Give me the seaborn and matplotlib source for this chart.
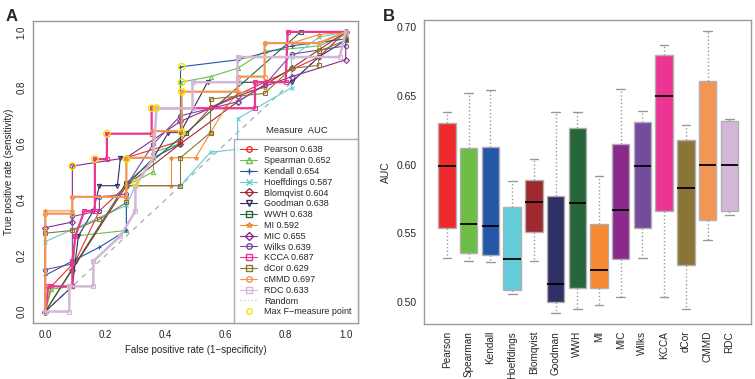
import pandas as pd
import seaborn as sns
import matplotlib.pyplot as plt
from matplotlib.lines import Line2D

# measures, colours, AUC
measures = ['Pearson', 'Spearman', 'Kendall', 'Hoeffdings', 'Blomqvist', 'Goodman', 'WWH',
            'MI', 'MIC', 'Wilks', 'KCCA', 'dCor', 'cMMD', 'RDC']
box_labels = ['Pearson', 'Spearman', 'Kendall', 'Hoeffdings', 'Blomqvist', 'Goodman', 'WWH',
              'MI', 'MIC', 'Wilks', 'KCCA', 'dCor', 'CMMD', 'RDC']
auc = [0.638, 0.652, 0.654, 0.587, 0.604, 0.638, 0.638, 0.592, 0.655, 0.639, 0.687, 0.629, 0.697, 0.633]
colors = ['#EE2A2E', '#6DBE45', '#2457A7', '#63CCD8', '#A0292F', '#2F3166', '#27653A',
          '#F68A32', '#8B2A8C', '#744C9E', '#EC3592', '#8B7536', '#F39655', '#D2B7D6']
markers = ['o', '^', '+', 'x', 'D', 'v', 's', '*', 'D', 'o', 's', 's', 'o', 's']
widths = [0.8, 0.8, 0.8, 0.8, 0.8, 0.8, 0.8, 0.8, 0.8, 0.8, 1.6, 0.8, 1.6, 1.8]

# ROC curves (fpr, tpr)
roc_pearson = [(0, 0), (0.02, 0.09), (0.1, 0.18), (0.18, 0.36), (0.27, 0.45), (0.27, 0.55),
               (0.45, 0.61), (0.55, 0.73), (0.73, 0.82), (0.91, 0.91), (1, 1)]
roc_spearman = [(0, 0), (0.02, 0.08), (0.09, 0.09), (0.1, 0.27), (0.27, 0.29), (0.27, 0.45),
                (0.36, 0.5), (0.36, 0.57), (0.45, 0.6), (0.45, 0.82), (0.55, 0.84), (0.64, 0.87),
                (0.73, 0.93), (0.91, 0.95), (1, 0.99), (1, 1)]
roc_kendall = [(0, 0), (0, 0.13), (0.09, 0.18), (0.18, 0.23), (0.27, 0.29), (0.27, 0.45),
               (0.36, 0.55), (0.45, 0.6), (0.45, 0.875), (0.64, 0.9), (0.82, 0.95), (1, 0.975), (1, 1)]
roc_hoeffdings = [(0, 0), (0, 0.25), (0.27, 0.38), (0.3, 0.45), (0.45, 0.45), (0.55, 0.57),
                  (0.64, 0.58), (0.64, 0.69), (0.82, 0.8), (0.82, 0.91), (0.91, 0.98), (1, 1)]
roc_blomqvist = [(0, 0), (0.09, 0.15), (0.27, 0.45), (0.45, 0.6), (0.64, 0.75), (0.82, 0.87), (1, 1)]
roc_goodman = [(0, 0), (0.09, 0.09), (0.11, 0.27), (0.16, 0.36), (0.18, 0.45), (0.24, 0.45),
               (0.25, 0.55), (0.36, 0.55), (0.41, 0.64), (0.45, 0.64), (0.54, 0.82), (0.82, 0.82),
               (0.91, 0.91), (1, 0.97), (1, 1)]
roc_wwh = [(0, 0), (0.27, 0.46), (0.47, 0.64), (0.85, 1.0), (1, 1)]
roc_mi = [(0, 0), (0, 0.36), (0.09, 0.36), (0.09, 0.41), (0.27, 0.41), (0.27, 0.45), (0.42, 0.45),
          (0.42, 0.55), (0.5, 0.55), (0.55, 0.64), (0.6, 0.73), (0.64, 0.78), (0.73, 0.8),
          (0.73, 0.96), (0.82, 0.96), (0.91, 0.99), (1, 1)]
roc_mic = [(0, 0), (0, 0.3), (0.09, 0.32), (0.09, 0.52), (0.27, 0.55), (0.45, 0.68), (0.64, 0.77),
           (0.82, 0.84), (1, 0.9), (1, 1)]
roc_wilks = [(0, 0), (0, 0.15), (0.09, 0.17), (0.09, 0.34), (0.18, 0.36), (0.18, 0.41), (0.27, 0.42),
             (0.27, 0.45), (0.36, 0.6), (0.45, 0.7), (0.64, 0.75), (0.73, 0.81), (0.82, 0.92),
             (1, 0.95), (1, 1)]
roc_kcca = [(0, 0), (0.01, 0.09), (0.09, 0.09), (0.09, 0.18), (0.1, 0.27), (0.13, 0.36), (0.165, 0.36),
            (0.165, 0.545), (0.205, 0.545), (0.205, 0.636), (0.354, 0.636), (0.354, 0.727),
            (0.698, 0.727), (0.698, 0.82), (0.8, 0.82), (0.807, 1.0), (1, 1)]
roc_dcor = [(0, 0), (0, 0.28), (0.09, 0.29), (0.18, 0.33), (0.27, 0.39), (0.27, 0.45), (0.45, 0.45),
            (0.45, 0.55), (0.55, 0.64), (0.55, 0.76), (0.73, 0.78), (0.82, 0.87), (0.91, 0.88),
            (0.91, 0.93), (1, 0.97), (1, 1)]
roc_cmmd = [(0, 0), (0, 0.35), (0.09, 0.35), (0.09, 0.41), (0.27, 0.41), (0.27, 0.55), (0.36, 0.55),
            (0.36, 0.645), (0.454, 0.645), (0.454, 0.786), (0.64, 0.786), (0.64, 0.84), (0.73, 0.84),
            (0.73, 0.96), (0.91, 0.96), (1, 1)]
roc_rdc = [(0, 0), (0.08, 0), (0.08, 0.09), (0.16, 0.09), (0.16, 0.18), (0.25, 0.27), (0.3, 0.36),
           (0.3, 0.45), (0.36, 0.55), (0.37, 0.727), (0.49, 0.727), (0.49, 0.82), (0.64, 0.82),
           (0.64, 0.91), (0.98, 0.91), (1, 1)]
roc_curves = [roc_pearson, roc_spearman, roc_kendall, roc_hoeffdings, roc_blomqvist, roc_goodman,
              roc_wwh, roc_mi, roc_mic, roc_wilks, roc_kcca, roc_dcor, roc_cmmd, roc_rdc]

max_f_fpr = [0.09, 0.205, 0.165, 0.27, 0.354, 0.37, 0.454, 0.454, 0.454, 0.454, 0.3]
max_f_tpr = [0.52, 0.636, 0.545, 0.545, 0.727, 0.727, 0.875, 0.82, 0.786, 0.64, 0.46]

# box plot summaries
box_min = [0.532, 0.530, 0.529, 0.506, 0.530, 0.492, 0.495, 0.498, 0.504, 0.532, 0.504, 0.495, 0.545, 0.563]
box_q1 = [0.554, 0.536, 0.534, 0.509, 0.551, 0.500, 0.510, 0.510, 0.531, 0.554, 0.566, 0.527, 0.560, 0.566]
box_med = [0.599, 0.557, 0.555, 0.531, 0.573, 0.513, 0.572, 0.523, 0.567, 0.599, 0.650, 0.583, 0.600, 0.600]
box_q3 = [0.630, 0.612, 0.613, 0.569, 0.589, 0.577, 0.627, 0.557, 0.615, 0.631, 0.680, 0.618, 0.661, 0.632]
box_max = [0.638, 0.652, 0.654, 0.588, 0.604, 0.638, 0.638, 0.592, 0.655, 0.639, 0.687, 0.629, 0.697, 0.633]

sns.set_style('white')
plt.rcParams['font.family'] = ['Liberation Sans', 'DejaVu Sans']

fig = plt.figure(figsize=(7.55, 3.79), dpi=100)
axA = fig.add_axes([0.0441, 0.1485, 0.4297, 0.7969])
axB = fig.add_axes([0.5616, 0.1451, 0.4331, 0.8021])

# ---- Panel A: ROC curves
axA.plot([0, 1], [0, 1], color='#aaaaaa', ls=(0, (4, 4)), lw=0.9, zorder=1)
handles = []
for name, a, col, mk, lw, pts in zip(measures, auc, colors, markers, widths, roc_curves):
    fx = [p[0] for p in pts]
    fy = [p[1] for p in pts]
    sns.lineplot(x=fx, y=fy, ax=axA, color=col, lw=lw, marker=mk, markersize=3,
                 markerfacecolor='none', markeredgecolor=col, markeredgewidth=0.8,
                 sort=False, estimator=None)
    handles.append(Line2D([], [], color=col, lw=0.8, marker=mk, markersize=4,
                          markerfacecolor='none', markeredgecolor=col, label=f'{name} {a:.3f}'))
sns.scatterplot(x=max_f_fpr, y=max_f_tpr, ax=axA, s=22, facecolor='none',
                edgecolor='#F2E600', linewidth=1.0, zorder=5)
handles.append(Line2D([], [], color='#cccccc', lw=1.0, ls=':', label='Random'))
handles.append(Line2D([], [], color='none', marker='o', markersize=4, markerfacecolor='none',
                      markeredgecolor='#F2E600', label='Max F\u2212measure point'))

axA.set_xlim(-0.04, 1.04)
axA.set_ylim(-0.04, 1.04)
axA.set_xticks([0, 0.2, 0.4, 0.6, 0.8, 1.0])
axA.set_yticks([0, 0.2, 0.4, 0.6, 0.8, 1.0])
axA.set_xticklabels(['0.0', '0.2', '0.4', '0.6', '0.8', '1.0'])
axA.set_yticklabels(['0.0', '0.2', '0.4', '0.6', '0.8', '1.0'], rotation=90, va='center')
axA.set_xlabel('False positive rate (1\u2212specificity)', fontsize=7)
axA.set_ylabel('True positive rate (sensitivity)', fontsize=7, labelpad=2)
leg = axA.legend(handles=handles, loc='lower right', bbox_to_anchor=(1, 0), borderaxespad=0,
                 fontsize=6.5, labelspacing=0.2, handlelength=1.9, handletextpad=0.75,
                 fancybox=False, frameon=True, borderpad=0.7)
leg.get_frame().set_edgecolor('#999999')
leg.get_frame().set_linewidth(1.0)
axA.text(0.735, 0.648, 'Measure  AUC', fontsize=6.8, va='center', ha='left')

# ---- Panel B: AUC boxplots
box_df = pd.DataFrame({
    'measure': [m for m in box_labels for _ in range(5)],
    'AUC': [v for vals in zip(box_min, box_q1, box_med, box_q3, box_max) for v in vals],
})
sns.boxplot(data=box_df, x='measure', y='AUC', hue='measure', palette=colors, legend=False,
            ax=axB, width=0.8, saturation=1, whis=(0, 100), linecolor='#b0b0b0', linewidth=1.0,
            medianprops={'color': 'black', 'linewidth': 1.3},
            whiskerprops={'color': '#999999', 'linestyle': ':', 'linewidth': 1.0},
            capprops={'color': '#999999', 'linewidth': 1.0}, showfliers=False)
for patch in axB.patches:
    patch.set_edgecolor('#b0b0b0')
axB.set_xlim(-1.06, 14.0)
axB.set_ylim(0.484, 0.7053)
axB.set_yticks([0.50, 0.55, 0.60, 0.65, 0.70])
axB.set_yticklabels(['0.50', '0.55', '0.60', '0.65', '0.70'])
axB.set_xlabel('')
axB.set_ylabel('AUC', fontsize=7.5)

for ax in (axA, axB):
    for sp in ax.spines.values():
        sp.set_color('#999999')
        sp.set_linewidth(1.0)
    ax.tick_params(axis='both', direction='out', length=3, width=0.8, color='#999999',
                   labelsize=7, pad=2)
axB.tick_params(axis='y', labelsize=7.5)
axB.tick_params(axis='x', labelsize=7.2, labelrotation=90)

fig.text(0.007, 0.975, 'A', fontsize=12, fontweight='bold', va='top')
fig.text(0.507, 0.975, 'B', fontsize=12, fontweight='bold', va='top')

fig.savefig('out.png', dpi=100)
